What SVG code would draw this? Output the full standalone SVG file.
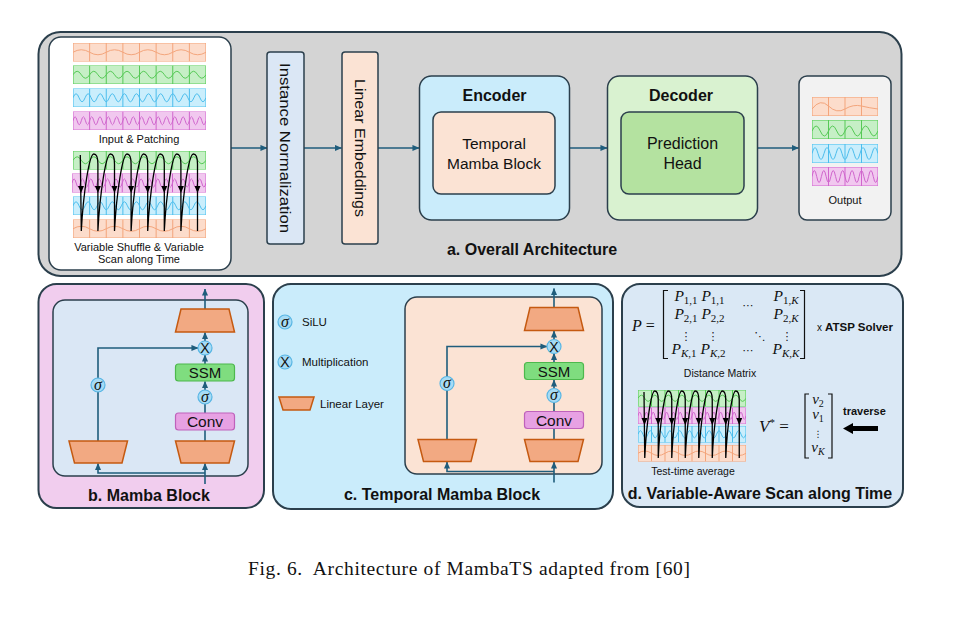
<svg xmlns="http://www.w3.org/2000/svg" width="954" height="618" viewBox="0 0 954 618">
<style>
.sans{font-family:"Liberation Sans",Arial,sans-serif;fill:#111}
.b{font-weight:bold}
.box{stroke:#2b3f4c;stroke-width:1.5}
.con{fill:none;stroke:#1f5d7c;stroke-width:1.6}
.lin{fill:#f2a982;stroke:#c55a11;stroke-width:1.5}
.ssm{fill:#7fdd7f;stroke:#4db84d;stroke-width:1.2}
.conv{fill:#e7a1e3;stroke:#bf62bb;stroke-width:1.2}
.op{fill:#a6dbf5;stroke:#58b6e4;stroke-width:1.2}
.nss{vector-effect:non-scaling-stroke}
.math{font-family:"Liberation Serif","DejaVu Serif",serif;fill:#111}
.dots{font-family:"DejaVu Sans",sans-serif;fill:#111}
.loop{fill:none;stroke:#000;stroke-width:1.3}
.brk{fill:none;stroke:#111;stroke-width:1.2}
.wo{fill:none;stroke:#f3a57c;stroke-width:1}
.wg{fill:none;stroke:#56c956;stroke-width:1}
.wb{fill:none;stroke:#4cbdec;stroke-width:1}
.wp{fill:none;stroke:#d066cd;stroke-width:1}
.sig{font-family:"Liberation Serif","DejaVu Serif",serif;font-style:italic;font-size:16px;fill:#111}
.mul{font-family:"Liberation Sans",Arial,sans-serif;font-size:14px;fill:#111}
</style>
<defs>
<marker id="ta" viewBox="0 0 8 8" refX="7.5" refY="4" markerWidth="7" markerHeight="7" markerUnits="userSpaceOnUse" orient="auto"><path d="M0,0.5 L8,4 L0,7.5 z" fill="#1f5d7c"/></marker>
<path id="dh" d="M-3,-4 L3,-4 L0,3 z" fill="#000"/>
<symbol id="so8" viewBox="0 0 133 18.5" preserveAspectRatio="none">
<rect class="nss" x="0" y="0" width="133" height="18.5" fill="#fcdccb" stroke="#f3a57c" stroke-width="1.2"/>
<path class="nss wo" d="M16.625,0V18.5M33.25,0V18.5M49.875,0V18.5M66.5,0V18.5M83.125,0V18.5M99.75,0V18.5M116.375,0V18.5"/>
<path class="nss wo" d="M0,9.25 q8.31,-5 16.625,0 t16.625,0 t16.625,0 t16.625,0 t16.625,0 t16.625,0 t16.625,0 t16.625,0"/>
</symbol>
<symbol id="sg8" viewBox="0 0 133 18.5" preserveAspectRatio="none">
<rect class="nss" x="0" y="0" width="133" height="18.5" fill="#c6efc6" stroke="#5dcf5d" stroke-width="1.2"/>
<path class="nss wg" d="M16.625,0V18.5M33.25,0V18.5M49.875,0V18.5M66.5,0V18.5M83.125,0V18.5M99.75,0V18.5M116.375,0V18.5"/>
<path class="nss wg" d="M0,9.25 q4.156,-7 8.3125,0 t8.3125,0 t8.3125,0 t8.3125,0 t8.3125,0 t8.3125,0 t8.3125,0 t8.3125,0 t8.3125,0 t8.3125,0 t8.3125,0 t8.3125,0 t8.3125,0 t8.3125,0 t8.3125,0 t8.3125,0"/>
</symbol>
<symbol id="sb8" viewBox="0 0 133 18.5" preserveAspectRatio="none">
<rect class="nss" x="0" y="0" width="133" height="18.5" fill="#caeefc" stroke="#55c5f0" stroke-width="1.2"/>
<path class="nss wb" d="M16.625,0V18.5M33.25,0V18.5M49.875,0V18.5M66.5,0V18.5M83.125,0V18.5M99.75,0V18.5M116.375,0V18.5"/>
<path class="nss wb" d="M0,9.25 q3.02,-8 6.045,0 t6.045,0 t6.045,0 t6.045,0 t6.045,0 t6.045,0 t6.045,0 t6.045,0 t6.045,0 t6.045,0 t6.045,0 t6.045,0 t6.045,0 t6.045,0 t6.045,0 t6.045,0 t6.045,0 t6.045,0 t6.045,0 t6.045,0 t6.045,0 t6.045,0"/>
</symbol>
<symbol id="sp8" viewBox="0 0 133 18.5" preserveAspectRatio="none">
<rect class="nss" x="0" y="0" width="133" height="18.5" fill="#f1c8ef" stroke="#d772d4" stroke-width="1.2"/>
<path class="nss wp" d="M16.625,0V18.5M33.25,0V18.5M49.875,0V18.5M66.5,0V18.5M83.125,0V18.5M99.75,0V18.5M116.375,0V18.5"/>
<path class="nss wp" d="M0,9.25 q2.078,-8 4.156,0 t4.156,0 t4.156,0 t4.156,0 t4.156,0 t4.156,0 t4.156,0 t4.156,0 t4.156,0 t4.156,0 t4.156,0 t4.156,0 t4.156,0 t4.156,0 t4.156,0 t4.156,0 t4.156,0 t4.156,0 t4.156,0 t4.156,0 t4.156,0 t4.156,0 t4.156,0 t4.156,0 t4.156,0 t4.156,0 t4.156,0 t4.156,0 t4.156,0 t4.156,0 t4.156,0 t4.156,0"/>
</symbol>
<symbol id="so4" viewBox="0 0 66 19">
<rect x="0" y="0" width="66" height="19" fill="#fcdccb" stroke="#f3a57c" stroke-width="1.2"/>
<path class="wo" d="M16.5,0V19M33,0V19M49.5,0V19"/>
<path class="wo" d="M0,12 q8.25,-11 16.5,-3 t16.5,3 t16.5,-3 t16.5,3"/>
</symbol>
<symbol id="sg4" viewBox="0 0 66 19">
<rect x="0" y="0" width="66" height="19" fill="#c6efc6" stroke="#5dcf5d" stroke-width="1.2"/>
<path class="wg" d="M16.5,0V19M33,0V19M49.5,0V19"/>
<path class="wg" d="M0,11 q4.125,-10 8.25,0 t8.25,0 t8.25,0 t8.25,0 t8.25,0 t8.25,0 t8.25,0 t8.25,0"/>
</symbol>
<symbol id="sb4" viewBox="0 0 66 19">
<rect x="0" y="0" width="66" height="19" fill="#caeefc" stroke="#55c5f0" stroke-width="1.2"/>
<path class="wb" d="M16.5,0V19M33,0V19M49.5,0V19"/>
<path class="wb" d="M0,9.5 q3,-12 6,0 t6,0 t6,0 t6,0 t6,0 t6,0 t6,0 t6,0 t6,0 t6,0 t6,0"/>
</symbol>
<symbol id="sp4" viewBox="0 0 66 19">
<rect x="0" y="0" width="66" height="19" fill="#f1c8ef" stroke="#d772d4" stroke-width="1.2"/>
<path class="wp" d="M16.5,0V19M33,0V19M49.5,0V19"/>
<path class="wp" d="M0,9.5 q2.357,-12 4.714,0 t4.714,0 t4.714,0 t4.714,0 t4.714,0 t4.714,0 t4.714,0 t4.714,0 t4.714,0 t4.714,0 t4.714,0 t4.714,0 t4.714,0 t4.714,0"/>
</symbol>
</defs>

<rect width="954" height="618" fill="#fff"/>

<!-- Panel backgrounds -->
<g id="panel-a">
<rect x="38.5" y="32" width="863" height="244" rx="22" fill="#d4d4d4" stroke="#2b3f4c" stroke-width="2"/>
<text class="sans b" x="532" y="255" font-size="16" text-anchor="middle">a. Overall Architecture</text>
</g>
<g id="panel-b">
<rect x="38.5" y="284" width="225.5" height="224" rx="18" fill="#f1cdee" stroke="#2b3f4c" stroke-width="2"/>
<rect x="53" y="300" width="195" height="176" rx="12" fill="#dae7f5" class="box"/>
<text class="sans b" x="149" y="501" font-size="16" text-anchor="middle">b. Mamba Block</text>
</g>
<g id="panel-c">
<rect x="273" y="284" width="340" height="225" rx="18" fill="#caecfb" stroke="#2b3f4c" stroke-width="2"/>
<rect x="405" y="297" width="197" height="177" rx="12" fill="#fbe3d4" class="box"/>
<text class="sans b" x="442" y="500" font-size="16" text-anchor="middle">c. Temporal Mamba Block</text>
</g>
<g id="panel-d">
<rect x="622" y="284" width="281" height="223" rx="18" fill="#dae8f5" stroke="#2b3f4c" stroke-width="2"/>
<text class="sans b" x="760" y="499" font-size="16" text-anchor="middle">d. Variable-Aware Scan along Time</text>
</g>

<!-- Connectors -->
<g id="connectors">
<path class="con" marker-end="url(#ta)" d="M231,148 H267"/>
<path class="con" marker-end="url(#ta)" d="M304,148 H341.5"/>
<path class="con" marker-end="url(#ta)" d="M378,148 H419"/>
<path class="con" marker-end="url(#ta)" d="M569,148 H607"/>
<path class="con" marker-end="url(#ta)" d="M757,148 H798.5"/>
<!-- b -->
<path class="con" marker-end="url(#ta)" d="M205,309 V289"/>
<path class="con" marker-end="url(#ta)" d="M205,341 V332.5"/>
<path class="con" marker-end="url(#ta)" d="M205,364 V355"/>
<path class="con" marker-end="url(#ta)" d="M205,390 V381.5"/>
<path class="con" d="M205,413 V404"/>
<path class="con" d="M205,441 V430"/>
<path class="con" marker-end="url(#ta)" d="M205,484 V463.5"/>
<path class="con" marker-end="url(#ta)" d="M205,473 H98 V463.5"/>
<path class="con" marker-end="url(#ta)" d="M98,441 V348 H198"/>
<!-- c -->
<g transform="translate(349,-1.5)">
<path class="con" marker-end="url(#ta)" d="M205,309 V290"/>
<path class="con" marker-end="url(#ta)" d="M205,341 V332.5"/>
<path class="con" marker-end="url(#ta)" d="M205,364 V355"/>
<path class="con" marker-end="url(#ta)" d="M205,390 V381.5"/>
<path class="con" d="M205,413 V404"/>
<path class="con" d="M205,441 V430"/>
<path class="con" marker-end="url(#ta)" d="M205,484 V463.5"/>
<path class="con" marker-end="url(#ta)" d="M205,473 H98 V463.5"/>
<path class="con" marker-end="url(#ta)" d="M98,441 V348 H198"/>
</g>
</g>

<!-- Panel a nodes -->
<g id="input">
<rect x="49" y="37" width="182" height="233" rx="12" fill="#fff" stroke="#2b3f4c" stroke-width="1.5"/>
<use href="#so8" x="73" y="43" width="133" height="18.5"/>
<use href="#sg8" x="73" y="65.5" width="133" height="18.5"/>
<use href="#sb8" x="73" y="88.5" width="133" height="18.5"/>
<use href="#sp8" x="73" y="111.5" width="133" height="18.5"/>
<text class="sans" x="139" y="143" font-size="11" text-anchor="middle">Input &amp; Patching</text>
<use href="#sg8" x="73" y="151" width="133" height="18.5"/>
<use href="#sp8" x="72" y="173.5" width="134" height="19"/>
<use href="#sb8" x="73" y="196.5" width="133" height="18.5"/>
<use href="#so8" x="73" y="219.5" width="133" height="18.5"/>
<path class="loop" d="M80.3,155 L81.3,231 c2,-38 8,-77 12.5,-77 c2.5,0 4.1,4 4.1,10 v67 c2,-38 8,-77 12.5,-77 c2.5,0 4.1,4 4.1,10 v67 c2,-38 8,-77 12.5,-77 c2.5,0 4.1,4 4.1,10 v67 c2,-38 8,-77 12.5,-77 c2.5,0 4.1,4 4.1,10 v67 c2,-38 8,-77 12.5,-77 c2.5,0 4.1,4 4.1,10 v67 c2,-38 8,-77 12.5,-77 c2.5,0 4.1,4 4.1,10 v67 c2,-38 8,-77 12.5,-77 c2.5,0 4.1,4 4.1,10 v67"/>
<use href="#dh" x="81" y="190"/><use href="#dh" x="97.9" y="190"/><use href="#dh" x="114.5" y="190"/><use href="#dh" x="131.1" y="190"/>
<use href="#dh" x="147.7" y="190"/><use href="#dh" x="164.3" y="190"/><use href="#dh" x="180.9" y="190"/><use href="#dh" x="197.5" y="190"/>
<text class="sans" x="139" y="250.5" font-size="11" text-anchor="middle">Variable Shuffle &amp; Variable</text>
<text class="sans" x="139" y="263" font-size="11" text-anchor="middle">Scan along Time</text>
</g>
<g id="instance-norm">
<rect x="267" y="52" width="37" height="192" rx="3" fill="#dbe7f5" class="box"/>
<text class="sans" transform="translate(285.5,148) rotate(90)" font-size="15.5" text-anchor="middle" dominant-baseline="central" textLength="170" lengthAdjust="spacingAndGlyphs">Instance Normalization</text>
</g>
<g id="linear-emb">
<rect x="342" y="52" width="36" height="192" rx="3" fill="#fbe3d4" class="box"/>
<text class="sans" transform="translate(360,148) rotate(90)" font-size="15.5" text-anchor="middle" dominant-baseline="central" textLength="138" lengthAdjust="spacingAndGlyphs">Linear Embeddings</text>
</g>
<g id="encoder">
<rect x="419.5" y="76" width="150" height="144" rx="12" fill="#caecfb" class="box"/>
<text class="sans b" x="494.5" y="101" font-size="16" text-anchor="middle">Encoder</text>
<rect x="433" y="112" width="122" height="82" rx="8" fill="#fbe3d4" class="box"/>
<text class="sans" x="494" y="149" font-size="15.5" text-anchor="middle">Temporal</text>
<text class="sans" x="494" y="169" font-size="15.5" text-anchor="middle">Mamba Block</text>
</g>
<g id="decoder">
<rect x="607.5" y="76" width="150" height="144" rx="12" fill="#d9f2d0" class="box"/>
<text class="sans b" x="681" y="101" font-size="16" text-anchor="middle">Decoder</text>
<rect x="621" y="112" width="123" height="82" rx="8" fill="#b4e2a0" class="box"/>
<text class="sans" x="682.5" y="149" font-size="16" text-anchor="middle">Prediction</text>
<text class="sans" x="682.5" y="169" font-size="16" text-anchor="middle">Head</text>
</g>
<g id="output">
<rect x="799" y="76" width="92" height="144" rx="8" fill="#f2f2f2" class="box"/>
<use href="#so4" x="812" y="97" width="66" height="19"/>
<use href="#sg4" x="812" y="120" width="66" height="19"/>
<use href="#sb4" x="812" y="144" width="66" height="19"/>
<use href="#sp4" x="812" y="167" width="66" height="19"/>
<text class="sans" x="845" y="204" font-size="11" text-anchor="middle">Output</text>
</g>

<!-- Panel b nodes -->
<g id="b-nodes">
<polygon class="lin" points="181,309 229,309 234.5,332 175.5,332"/>
<circle class="op" cx="205" cy="348" r="7"/>
<text class="mul" x="205" y="353" text-anchor="middle">X</text>
<rect class="ssm" x="175.5" y="364" width="59" height="17" rx="3"/>
<text class="sans" x="205" y="378" font-size="15" text-anchor="middle">SSM</text>
<circle class="op" cx="205" cy="397" r="7"/>
<text class="sig" x="205" y="401.5" text-anchor="middle">σ</text>
<rect class="conv" x="175.5" y="413" width="59" height="17" rx="3"/>
<text class="sans" x="205" y="427" font-size="15.5" text-anchor="middle">Conv</text>
<polygon class="lin" points="175.5,441 234.5,441 229,463 181,463"/>
<polygon class="lin" points="69,441 127.5,441 122,463 74.5,463"/>
<circle class="op" cx="98" cy="385" r="7"/>
<text class="sig" x="98" y="389.5" text-anchor="middle">σ</text>
</g>

<!-- Panel c nodes -->
<g id="c-nodes">
<g transform="translate(349,-1.5)">
<polygon class="lin" points="181,309 229,309 234.5,332 175.5,332"/>
<circle class="op" cx="205" cy="348" r="7"/>
<text class="mul" x="205" y="353" text-anchor="middle">X</text>
<rect class="ssm" x="175.5" y="364" width="59" height="17" rx="3"/>
<text class="sans" x="205" y="378" font-size="15" text-anchor="middle">SSM</text>
<circle class="op" cx="205" cy="397" r="7"/>
<text class="sig" x="205" y="401.5" text-anchor="middle">σ</text>
<rect class="conv" x="175.5" y="413" width="59" height="17" rx="3"/>
<text class="sans" x="205" y="427" font-size="15.5" text-anchor="middle">Conv</text>
<polygon class="lin" points="175.5,441 234.5,441 229,463 181,463"/>
<polygon class="lin" points="69,441 127.5,441 122,463 74.5,463"/>
<circle class="op" cx="98" cy="385" r="7"/>
<text class="sig" x="98" y="389.5" text-anchor="middle">σ</text>
</g>
</g>
<g id="legend">
<circle class="op" cx="285" cy="322" r="7"/>
<text class="sig" x="285" y="326.5" text-anchor="middle">σ</text>
<text class="sans" x="302" y="326" font-size="11.5">SiLU</text>
<circle class="op" cx="285" cy="362" r="7"/>
<text class="mul" x="285" y="367" text-anchor="middle">X</text>
<text class="sans" x="302" y="366" font-size="11.5">Multiplication</text>
<polygon class="lin" points="279,397 314,397 310,410 283,410"/>
<text class="sans" x="320" y="408" font-size="11.5">Linear Layer</text>
</g>

<!-- Panel d nodes -->
<g id="distance-matrix">
<text class="math" x="632" y="331" font-size="16"><tspan font-style="italic">P</tspan> =</text>
<path class="brk" d="M668,290.5 H663.5 V358.5 H668 M800,290.5 H804.5 V358.5 H800"/>
<g class="math" font-size="15.5" text-anchor="middle">
<text x="686" y="301"><tspan font-style="italic">P</tspan><tspan font-size="11" dy="3">1,1</tspan></text>
<text x="713" y="301"><tspan font-style="italic">P</tspan><tspan font-size="11" dy="3">1,1</tspan></text>
<text x="786" y="301"><tspan font-style="italic">P</tspan><tspan font-size="11" dy="3">1,<tspan font-style="italic">K</tspan></tspan></text>
<text x="686" y="319"><tspan font-style="italic">P</tspan><tspan font-size="11" dy="3">2,1</tspan></text>
<text x="713" y="319"><tspan font-style="italic">P</tspan><tspan font-size="11" dy="3">2,2</tspan></text>
<text x="786" y="319"><tspan font-style="italic">P</tspan><tspan font-size="11" dy="3">2,<tspan font-style="italic">K</tspan></tspan></text>
<text x="684" y="354"><tspan font-style="italic">P</tspan><tspan font-size="11" dy="3"><tspan font-style="italic">K</tspan>,1</tspan></text>
<text x="713" y="354"><tspan font-style="italic">P</tspan><tspan font-size="11" dy="3"><tspan font-style="italic">K</tspan>,2</tspan></text>
<text x="786" y="354"><tspan font-style="italic">P</tspan><tspan font-size="11" dy="3"><tspan font-style="italic">K</tspan>,<tspan font-style="italic">K</tspan></tspan></text>
</g>
<g class="dots" font-size="11" text-anchor="middle">
<text x="748" y="309">⋯</text>
<text x="748" y="354">⋯</text>
<text x="686" y="340">⋮</text>
<text x="713" y="340">⋮</text>
<text x="760" y="340">⋱</text>
<text x="787" y="340">⋮</text>
</g>
<text class="sans" x="817" y="331" font-size="10">x</text>
<text class="sans b" x="825" y="331" font-size="11.5">ATSP Solver</text>
<text class="sans" x="720" y="377" font-size="10.5" text-anchor="middle">Distance Matrix</text>
</g>
<g id="test-time-average">
<use href="#sg8" x="638" y="390" width="108" height="16.5"/>
<use href="#sp8" x="638" y="407.5" width="108" height="16.5"/>
<use href="#sb8" x="638" y="426" width="108" height="16.5"/>
<use href="#so8" x="638" y="445" width="108" height="16.5"/>
<path class="loop" d="M644,392 L644.75,458 c1.5,-34 6.5,-67 10,-67 c2,0 3.5,3 3.5,9 v58 c1.5,-34 6.5,-67 10,-67 c2,0 3.5,3 3.5,9 v58 c1.5,-34 6.5,-67 10,-67 c2,0 3.5,3 3.5,9 v58 c1.5,-34 6.5,-67 10,-67 c2,0 3.5,3 3.5,9 v58 c1.5,-34 6.5,-67 10,-67 c2,0 3.5,3 3.5,9 v58 c1.5,-34 6.5,-67 10,-67 c2,0 3.5,3 3.5,9 v58 c1.5,-34 6.5,-67 10,-67 c2,0 3.5,3 3.5,9 v58"/>
<use href="#dh" x="644.5" y="422"/><use href="#dh" x="658.25" y="422"/><use href="#dh" x="671.75" y="422"/><use href="#dh" x="685.25" y="422"/>
<use href="#dh" x="698.75" y="422"/><use href="#dh" x="712.25" y="422"/><use href="#dh" x="725.75" y="422"/><use href="#dh" x="739.25" y="422"/>
<text class="sans" x="693" y="475" font-size="10.5" text-anchor="middle">Test-time average</text>
</g>
<g id="scan-order">
<text class="math" x="759" y="432" font-size="17"><tspan font-style="italic">V</tspan><tspan font-size="11" dy="-6">*</tspan><tspan dy="6"> =</tspan></text>
<path class="brk" d="M809,394 H805 V458 H809 M828,394 H832 V458 H828"/>
<g class="math" font-size="15" text-anchor="middle">
<text x="818" y="404"><tspan font-style="italic">v</tspan><tspan font-size="10" dy="3">2</tspan></text>
<text x="818" y="419"><tspan font-style="italic">v</tspan><tspan font-size="10" dy="3">1</tspan></text>
<text x="818" y="452"><tspan font-style="italic">v</tspan><tspan font-size="10" dy="3" font-style="italic">K</tspan></text>
</g>
<text class="dots" x="818" y="437" font-size="9" text-anchor="middle">⋮</text>
<text class="sans b" x="843" y="415" font-size="11">traverse</text>
<polygon points="878,426 853,426 853,423 843,428.5 853,434 853,431 878,431" fill="#000"/>
</g>

<text x="248" y="575" font-family="Liberation Serif, serif" font-size="19.5" fill="#111" textLength="442" xml:space="preserve">Fig. 6.  Architecture of MambaTS adapted from [60]</text>
</svg>
